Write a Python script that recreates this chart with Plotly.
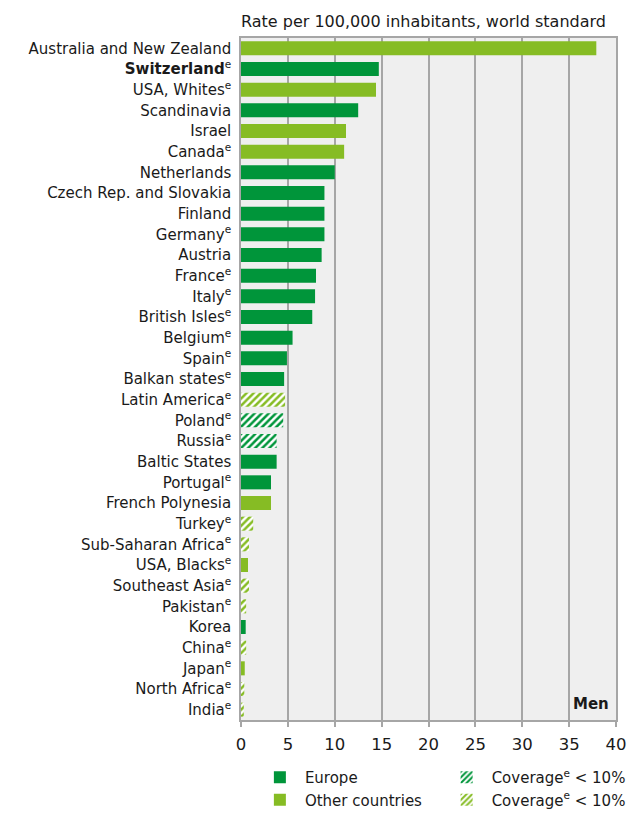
import plotly.graph_objects as go

categories = [
    "Australia and New Zealand", "<b>Switzerland</b><sup>e</sup>", "USA, Whites<sup>e</sup>",
    "Scandinavia", "Israel", "Canada<sup>e</sup>", "Netherlands", "Czech Rep. and Slovakia",
    "Finland", "Germany<sup>e</sup>", "Austria", "France<sup>e</sup>", "Italy<sup>e</sup>",
    "British Isles<sup>e</sup>", "Belgium<sup>e</sup>", "Spain<sup>e</sup>",
    "Balkan states<sup>e</sup>", "Latin America<sup>e</sup>", "Poland<sup>e</sup>",
    "Russia<sup>e</sup>", "Baltic States", "Portugal<sup>e</sup>", "French Polynesia",
    "Turkey<sup>e</sup>", "Sub-Saharan Africa<sup>e</sup>", "USA, Blacks<sup>e</sup>",
    "Southeast Asia<sup>e</sup>", "Pakistan<sup>e</sup>", "Korea", "China<sup>e</sup>",
    "Japan<sup>e</sup>", "North Africa<sup>e</sup>", "India<sup>e</sup>",
]
values = [
    37.9, 14.7, 14.4, 12.5, 11.2, 11.0, 10.0, 8.9, 8.9, 8.9, 8.6, 8.0, 7.9, 7.6, 5.5,
    4.9, 4.6, 4.7, 4.5, 3.8, 3.8, 3.2, 3.2, 1.3, 0.85, 0.75, 0.85, 0.55, 0.5, 0.55,
    0.4, 0.35, 0.3,
]
region = [
    "Other", "Europe", "Other", "Europe", "Other", "Other", "Europe", "Europe", "Europe",
    "Europe", "Europe", "Europe", "Europe", "Europe", "Europe", "Europe", "Europe",
    "Other", "Europe", "Europe", "Europe", "Europe", "Other", "Other", "Other", "Other",
    "Other", "Other", "Europe", "Other", "Other", "Other", "Other",
]
low_coverage = [
    False, False, False, False, False, False, False, False, False, False, False, False,
    False, False, False, False, False, True, True, True, False, False, False, True, True,
    False, True, True, False, True, False, True, True,
]

DARK = "#00953a"
LIGHT = "#86bc24"
GRID = "#a6a6a6"
TEXT = "#1a1a1a"
FONT = "DejaVu Sans"

def subset(reg, low):
    xs, ys = [], []
    for c, v, r, l in zip(categories, values, region, low_coverage):
        if r == reg and l == low:
            xs.append(v)
            ys.append(c)
    return xs, ys

fig = go.Figure()
specs = [
    ("Europe", False, "Europe", DARK, "legend"),
    ("Other", False, "Other countries", LIGHT, "legend"),
    ("Europe", True, "Coverage<sup>e</sup> < 10%", DARK, "legend2"),
    ("Other", True, "Coverage<sup>e</sup> < 10%", LIGHT, "legend2"),
]
for reg, low, name, col, leg in specs:
    xs, ys = subset(reg, low)
    if low:
        marker = dict(color="white", line=dict(width=0),
                      pattern=dict(shape="/", fgcolor=col, bgcolor="white", fgopacity=1,
                                   size=5, solidity=0.5, fillmode="replace"))
    else:
        marker = dict(color=col, line=dict(width=0))
    fig.add_trace(go.Bar(x=xs, y=ys, orientation="h", name=name, marker=marker,
                         width=0.68, legend=leg))

legend_common = dict(orientation="v", yref="container", yanchor="bottom", y=0.0,
                     font=dict(size=15, color=TEXT), traceorder="normal",
                     itemwidth=40, tracegroupgap=0, bgcolor="rgba(0,0,0,0)",
                     borderwidth=0)

# page body has an 8px margin: figure is drawn at (8, 8)
fig.update_layout(
    width=635, height=808,
    margin=dict(l=233, r=27, t=30, b=96),
    plot_bgcolor="#efefef", paper_bgcolor="white",
    barmode="overlay",
    font=dict(family=FONT, size=15, color=TEXT),
    showlegend=True,
    legend=dict(x=0.037, xanchor="left", **legend_common),
    legend2=dict(x=0.535, xanchor="left", **legend_common),
)
fig.update_xaxes(
    range=[0, 40], dtick=5, tick0=0,
    showgrid=True, gridcolor=GRID, gridwidth=2,
    showline=True, linecolor=GRID, linewidth=2, mirror=True,
    ticks="outside", ticklen=5, tickcolor=GRID, tickwidth=2,
    ticklabelstandoff=3, automargin=False,
    tickfont=dict(size=16.5, color=TEXT),
    zeroline=False, fixedrange=True,
)
fig.update_yaxes(
    categoryorder="array", categoryarray=categories, autorange="reversed",
    showline=True, linecolor=GRID, linewidth=2, mirror=True,
    ticks="", showgrid=False, ticksuffix=" ", automargin=False,
    tickfont=dict(size=15, color=TEXT),
)
fig.add_annotation(
    text="Rate per 100,000 inhabitants, world standard",
    xref="paper", yref="paper", x=-0.005, y=1, xanchor="left", yanchor="bottom",
    yshift=5, showarrow=False, font=dict(size=16, color=TEXT),
)
fig.add_annotation(
    text="<b>Men</b>", xref="x", yref="paper", x=39.5, y=0, xanchor="right",
    yanchor="bottom", yshift=5, showarrow=False, bgcolor="#efefef",
    font=dict(size=15, color=TEXT),
)

fig.write_html("out.html")
